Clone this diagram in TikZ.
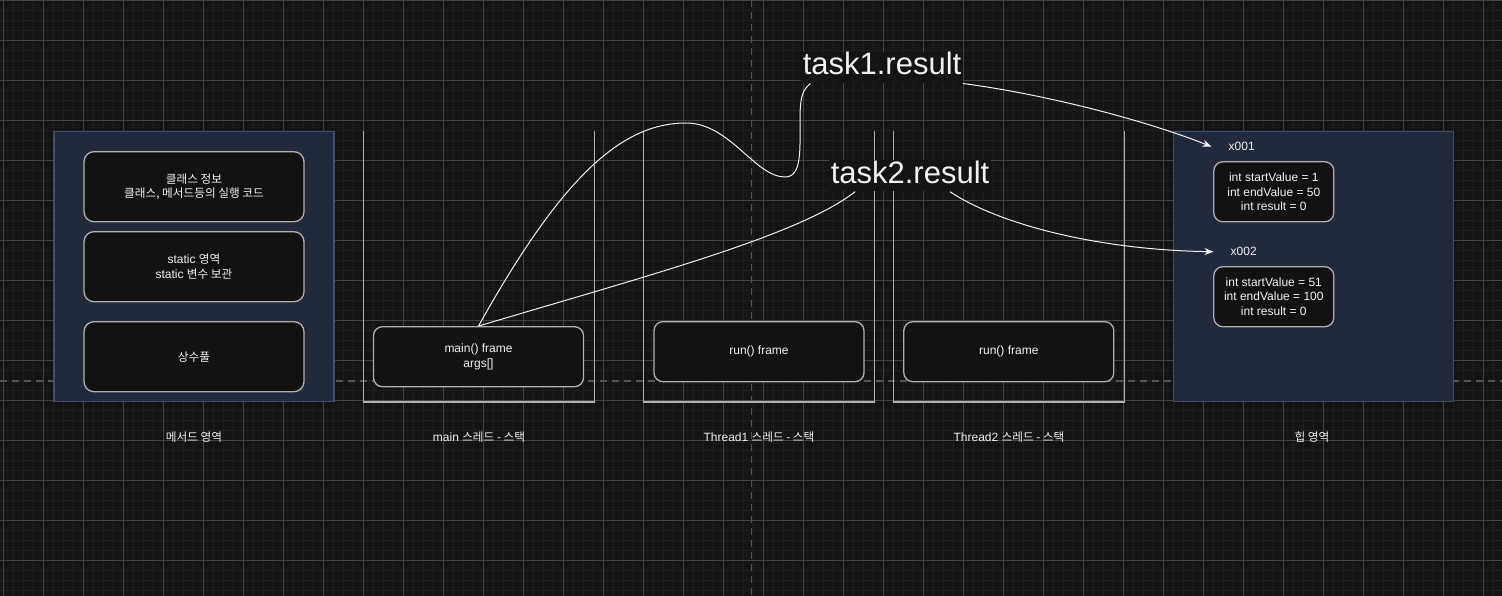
\documentclass[tikz,border=0pt]{standalone}
\usepackage{fontspec}
\setmainfont{Liberation Sans}
\newfontfamily\krfont[Scale=0.97]{Noto Sans CJK KR}
\usetikzlibrary{arrows.meta}
\usepackage{xcolor}
\definecolor{canvasbg}{HTML}{141414}
\definecolor{minorgrid}{HTML}{1F1F1F}
\definecolor{majorgrid}{HTML}{444444}
\definecolor{pageline}{HTML}{555555}
\definecolor{areafill}{HTML}{212A3C}
\definecolor{areaedge}{HTML}{3D5070}
\definecolor{boxfill}{HTML}{121212}
\definecolor{boxedge}{HTML}{B0B0B0}
\definecolor{inkwhite}{HTML}{F2F2F2}
\newcommand{\smalltext}{\fontsize{12}{14.5}\selectfont}

\begin{document}
\begin{tikzpicture}[x=1pt, y=-1pt,
  area/.style={rectangle, draw=areaedge, fill=areafill, line width=1.3pt,
               minimum width=280pt, minimum height=270pt},
  infobox/.style={rectangle, draw=boxedge, fill=boxfill, rounded corners=10pt,
                  line width=1.3pt, minimum width=220pt, minimum height=70pt,
                  font=\smalltext, text=inkwhite, align=center},
  framebox/.style={infobox, rounded corners=9pt, minimum width=210pt, minimum height=60pt},
  objbox/.style={infobox, rounded corners=9pt, minimum width=120pt, minimum height=60pt},
  stackbox/.style={rectangle, minimum width=230pt, minimum height=270pt},
  stackline/.style={draw=boxedge, line width=1.3pt},
  arealabel/.style={font=\smalltext, text=inkwhite},
  addr/.style={font=\smalltext, text=inkwhite, minimum width=60pt},
  taskname/.style={fill=canvasbg, text=inkwhite, font=\fontsize{31}{36}\selectfont,
                   inner sep=1.5pt, text height=21.8pt, text depth=6.8pt},
  ref/.style={draw=inkwhite, line width=1pt},
  arr/.style={ref, -{Stealth[length=9pt, width=7pt]}}
]

\fill[canvasbg] (0,0) rectangle (1502,596);
\useasboundingbox (0,0) rectangle (1502,596);
\foreach \gx in {3.3,13.3,...,1502} \draw[minorgrid, line width=1pt] (\gx,0) -- (\gx,596);
\foreach \gy in {0.3,10.3,...,596} \draw[minorgrid, line width=1pt] (0,\gy) -- (1502,\gy);
\foreach \gx in {3.3,43.3,...,1502} \draw[majorgrid, line width=1pt] (\gx,0) -- (\gx,596);
\foreach \gy in {0.3,40.3,...,596} \draw[majorgrid, line width=1pt] (0,\gy) -- (1502,\gy);
\draw[pageline, line width=1.3pt, dash pattern=on 7pt off 5pt] (0,381) -- (1502,381);
\draw[pageline, line width=1.3pt, dash pattern=on 7pt off 5pt] (751.7,0) -- (751.7,596);

\node[area] (method) at (194,266.7) {};
\node[infobox] (classinfo) at (194,186.7) {{\krfont 클래스 정보}\\{\krfont 클래스, 메서드등의 실행 코드}};
\node[infobox] (staticarea) at (194,266.7) {static {\krfont 영역}\\static {\krfont 변수 보관}};
\node[infobox] (constpool) at (194,356.7) {\krfont 상수풀};
\node[arealabel] (methodlbl) at (194,437) {\krfont 메서드 영역};

\node[stackbox] (mainstack) at (479,266.7) {};
\node[stackbox] (t1stack)   at (759,266.7) {};
\node[stackbox] (t2stack)   at (1009,266.7) {};
\foreach \s in {mainstack,t1stack,t2stack}
  \draw[stackline] (\s.north west) |- (\s.south east) -- (\s.north east);

\node[framebox] (mainframe) at (478.5,356.7) {main() frame\\args[]};
\node[framebox] (t1frame)   at (759,351.7)   {run() frame};
\node[framebox] (t2frame)   at (1008.8,351.7) {run() frame};

\node[arealabel] (mainlbl) at (479,437)  {main {\krfont 스레드 - 스택}};
\node[arealabel] (t1lbl)   at (759,437)  {Thread1 {\krfont 스레드 - 스택}};
\node[arealabel] (t2lbl)   at (1009,437) {Thread2 {\krfont 스레드 - 스택}};

\node[area] (heap) at (1313.8,266.7) {};
\node[addr] (x001) at (1241.7,146.7) {x001};
\node[objbox] (task1obj) at (1273.8,191.8) {int startValue = 1\\int endValue = 50\\int result = 0};
\node[addr] (x002) at (1243.7,251.7) {x002};
\node[objbox] (task2obj) at (1273.8,296.7) {int startValue = 51\\int endValue = 100\\int result = 0};
\node[arealabel] (heaplbl) at (1312,437) {\krfont 힙 영역};

\node[taskname] (task1) at (882,67.5)  {task1.result};
\node[taskname] (task2) at (910,175.7) {task2.result};

\draw[ref] (mainframe.north) .. controls (560,180) and (620,123) .. (686,123)
  .. controls (730,123) and (755,177) .. (785,177)
  .. controls (802,177) and (800,150) .. (800,120)
  .. controls (800,95) and (803,90) .. ([xshift=9.3pt]task1.south west);
\draw[arr] (task1.south east) .. controls (1050,95) and (1150,122) .. (x001.west);

\draw[ref] (mainframe.north) .. controls (650,275) and (800,235) .. ([xshift=26pt]task2.south west);
\draw[arr] ([xshift=-41pt]task2.south east) .. controls (1000,225) and (1100,250) .. (x002.west);

\end{tikzpicture}
\end{document}
